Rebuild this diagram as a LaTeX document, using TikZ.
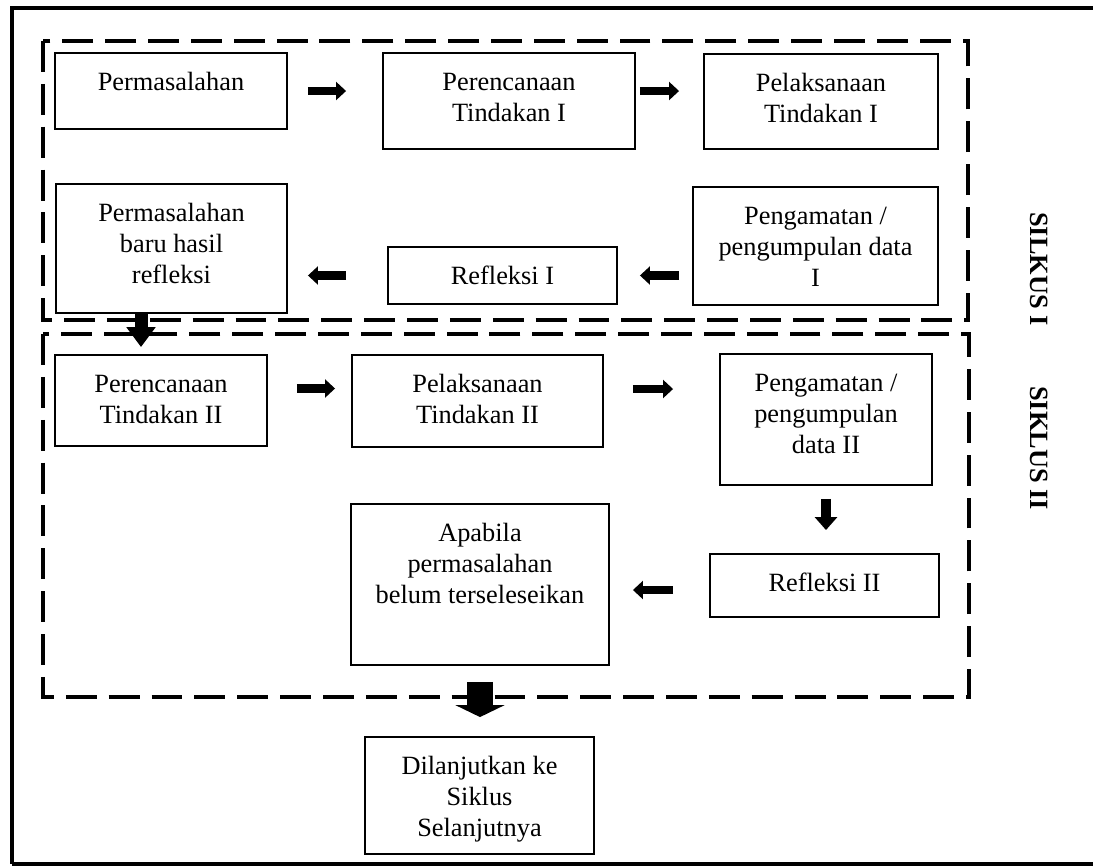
\documentclass[tikz,border=0pt]{standalone}
\usepackage{fontspec}
\setmainfont{Liberation Serif}
\usetikzlibrary{arrows.meta}

% isi kotak: lebar, tinggi, teks (rata atas)
\newcommand{\isi}[3]{\parbox[c][#2][t]{#1}{\centering\rule{0pt}{21.5pt}#3}}

\tikzset{
  kotak/.style={draw, line width=1.1pt, inner sep=0pt, font=\fontsize{15}{17.5}\selectfont},
  putus/.style={line width=2.3pt, dash pattern=on 17.6pt off 6.8pt},
  panah/.style={line width=5.1pt, -{Triangle[length=5.7pt,width=10.2pt]}},
  panahkecil/.style={line width=6.2pt, -{Triangle[length=7.4pt,width=12.5pt]}},
  panahturun/.style={line width=7.4pt, -{Triangle[length=11.3pt,width=15.9pt]}},
  panahbesar/.style={line width=14.7pt, -{Triangle[length=6.8pt,width=27.8pt]}},
  judul/.style={rotate=-90, font=\fontsize{15}{17}\selectfont\bfseries}
}

\begin{document}
\begin{tikzpicture}[x=0.02cm, y=-0.02cm]
        \useasboundingbox (0,0) rectangle (1093,867);

        % bingkai luar
        \draw[line width=2.8pt] (1093,8) -- (12,8) -- (12,864);
        \draw[line width=1.8pt] (12,864) -- (1093,864);

        % siklus I
        \node[kotak] (perm) at (171,91) {\isi{4.64cm}{1.52cm}{Permasalahan}};
        \node[kotak] (ren1) at (509,101) {\isi{5.04cm}{1.92cm}{Perencanaan\\ Tindakan I}};
        \node[kotak] (pel1) at (821,101.5) {\isi{4.68cm}{1.9cm}{Pelaksanaan\\ Tindakan I}};
        \node[kotak] (baru) at (171.5,248.5) {\isi{4.62cm}{2.58cm}{Permasalahan\\ baru hasil\\ refleksi}};
        \node[kotak] (ref1) at (502.5,275.5) {\isi{4.58cm}{1.14cm}{Refleksi I}};
        \node[kotak] (peng1) at (815.5,246) {\isi{4.9cm}{2.36cm}{Pengamatan /\\ pengumpulan data\\ I}};

        % siklus II
        \node[kotak] (ren2) at (161,400.5) {\isi{4.24cm}{1.82cm}{Perencanaan\\ Tindakan II}};
        \node[kotak] (pel2) at (477.5,401) {\isi{5.02cm}{1.84cm}{Pelaksanaan\\ Tindakan II}};
        \node[kotak] (peng2) at (826,419.5) {\isi{4.24cm}{2.62cm}{Pengamatan /\\ pengumpulan\\ data II}};
        \node[kotak] (ref2) at (824.5,585.5) {\isi{4.58cm}{1.26cm}{Refleksi II}};
        \node[kotak] (apa) at (480,584.5) {\isi{5.16cm}{3.22cm}{Apabila\\ permasalahan\\ belum terseleseikan}};

        \node[kotak] (dil) at (479.5,795.5) {\isi{4.58cm}{2.34cm}{Dilanjutkan ke\\ Siklus\\ Selanjutnya}};

        \node[judul] (silkus1) at (1039,269) {SILKUS I};
        \node[judul] (siklus2) at (1039,448) {SIKLUS II};

        % kotak putus-putus
        \draw[putus] (43,41) rectangle (968,320);
        \draw[putus] (43,334) rectangle (969,697);

        % panah
        \draw[panah, shorten <=0.4cm, shorten >=0.72cm] (perm.east) -- (ren1.west |- perm.east);
        \draw[panah, shorten <=0.08cm, shorten >=0.48cm] (ren1.east |- perm.east) -- (pel1.west |- perm.east);
        \draw[panah, shorten <=0.26cm, shorten >=0.44cm] (peng1.west |- ref1.east) -- (ref1.east);
        \draw[panah, shorten <=0.82cm, shorten >=0.4cm] (ref1.west) -- (baru.east |- ref1.west);
        \draw[panahturun, shorten >=0.14cm] ([xshift=-0.61cm]baru.south) -- ([xshift=-0.61cm]baru.south |- ren2.north);
        \draw[panah, shorten <=0.58cm, shorten >=0.32cm] ([yshift=0.24cm]ren2.east) -- ([yshift=0.24cm]ren2.east -| pel2.west);
        \draw[panah, shorten <=0.58cm, shorten >=0.92cm] ([yshift=0.24cm]pel2.east) -- ([yshift=0.24cm]pel2.east -| peng2.west);
        \draw[panahkecil, shorten <=0.26cm, shorten >=0.46cm] (peng2.south) -- (peng2.south |- ref2.north);
        \draw[panah, shorten <=0.72cm, shorten >=0.46cm] ([yshift=-0.09cm]ref2.west) -- ([yshift=-0.09cm]ref2.west -| apa.east);
        \draw[panahbesar, shorten <=0.32cm, shorten >=0.38cm] (apa.south) -- (apa.south |- dil.north);
    \end{tikzpicture}
\end{document}
